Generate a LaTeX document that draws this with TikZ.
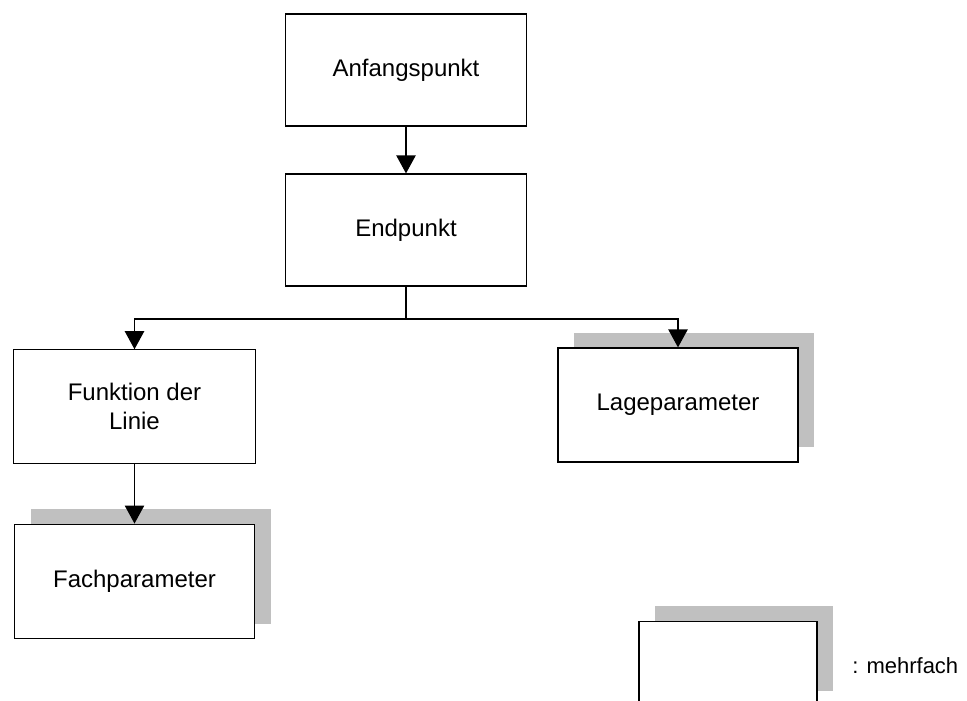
\documentclass[tikz,border=0pt]{standalone}
\usepackage{fontspec}
\setmainfont{Liberation Sans}
\usetikzlibrary{arrows.meta,shadows}
\begin{document}
\begin{tikzpicture}[x=0.75pt,y=-0.75pt,
  box/.style={draw=black,fill=white,line width=0.9pt,inner sep=2pt,
    minimum width=181pt,minimum height=84pt,align=center,
    font=\fontsize{18}{21.5}\selectfont},
  multibox/.style={box,general shadow={draw=none,fill=shadowgray,shadow xshift=12pt,shadow yshift=11.5pt}},
  link/.style={line width=0.9pt},
  arrowlink/.style={link,-{Triangle[length=13.5pt,width=14.5pt]}}
]
\definecolor{shadowgray}{RGB}{192,192,192}
\useasboundingbox[fill=white] (0,0) rectangle (967,700);

\node[box] (anfang) at (406,70) {Anfangspunkt};
\node[box] (end) at (406,230) {Endpunkt};
\node[box,minimum height=85pt] (funktion) at (134.5,406.5) {Funktion der\\Linie};
\node[multibox,minimum width=180pt,minimum height=85.5pt] (lage) at (678,405) {Lageparameter};
\node[multibox,minimum width=180pt,minimum height=86pt] (fach) at (134.5,581.5) {Fachparameter};

% legend
\node[multibox,minimum width=133.5pt,minimum height=64pt] (legend) at (728,664) {};
\node[anchor=west,font=\fontsize{16.5}{20}\selectfont,inner sep=0pt] (legendtext) at (852,666) {: mehrfach};

\coordinate (split) at (406,319);
\draw[arrowlink] (anfang.south) -- (end.north);
\draw[link] (end.south) -- (split);
\draw[arrowlink] (split) -| (funktion.north);
\draw[arrowlink] (split) -| (lage.north);
\draw[arrowlink] (funktion.south) -- (fach.north);
\end{tikzpicture}
\end{document}
